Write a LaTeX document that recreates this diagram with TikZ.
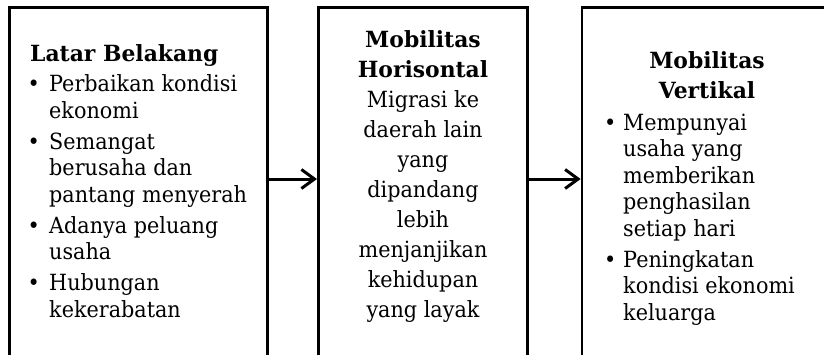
\documentclass[tikz,border=0pt]{standalone}
\usepackage{fontspec}
\setmainfont{DejaVu Serif}[FakeStretch=0.93, BoldFeatures={FakeStretch=0.98}]
\usetikzlibrary{arrows.meta}
\newcommand\bul{\makebox[7pt]{\textbullet}\hspace{12pt}}
\newcommand\ind{\hspace{19pt}}
\newcommand\bulb{\makebox[7pt]{\textbullet}\hspace{9.5pt}}
\newcommand\indb{\hspace{16.5pt}}
\begin{document}
\begin{tikzpicture}[x=1pt,y=-1pt,
  box/.style={draw, line width=2.7pt, rectangle, inner sep=0pt, minimum height=349.5pt},
  txt/.style={inner sep=0pt, font=\fontsize{22.3}{26.6}\selectfont},
  txtwide/.style={inner sep=0pt, font=\fontsize{22.3}{30}\selectfont},
  arr/.style={line width=3pt, -{Straight Barb[length=13pt,width=19pt]}}]
\useasboundingbox (0,0) rectangle (824,354);
\node[box, minimum width=258.3pt] (b1) at (138.35,182.25) {};
\node[box, minimum width=209.2pt] (b2) at (422.9,182.25) {};
\node[box, minimum width=250pt] (b3) at (707,182.25) {};
\node[txt, anchor=base west] (t1) at (30,61) {\begin{tabular}[t]{@{}l@{}}
\textbf{Latar Belakang}\\[4.2pt]
\bul Perbaikan kondisi\\
\ind ekonomi\\[4.2pt]
\bul Semangat\\
\ind berusaha dan\\
\ind pantang menyerah\\[4.2pt]
\bul Adanya peluang\\
\ind usaha\\[4.2pt]
\bul Hubungan\\
\ind kekerabatan
\end{tabular}};
\node[txtwide, anchor=base] (t2) at (423,47.5) {\begin{tabular}[t]{@{}c@{}}
\textbf{Mobilitas}\\
\textbf{Horisontal}\\
Migrasi ke\\
daerah lain\\
yang\\
dipandang\\
lebih\\
menjanjikan\\
kehidupan\\
yang layak
\end{tabular}};
\node[txtwide, anchor=base] (t3h) at (707,68.3) {\begin{tabular}[t]{@{}c@{}}
\textbf{Mobilitas}\\
\textbf{Vertikal}
\end{tabular}};
\node[txt, anchor=base west] (t3) at (606.5,130) {\begin{tabular}[t]{@{}l@{}}
\bulb Mempunyai\\
\indb usaha yang\\
\indb memberikan\\
\indb penghasilan\\
\indb setiap hari\\[4.2pt]
\bulb Peningkatan\\
\indb kondisi ekonomi\\
\indb keluarga
\end{tabular}};
\draw[arr] ([yshift=3.25pt]b1.east) -- ([yshift=3.25pt]b2.west);
\draw[arr] ([yshift=3.25pt]b2.east) -- ([yshift=3.25pt]b3.west);
\end{tikzpicture}
\end{document}
